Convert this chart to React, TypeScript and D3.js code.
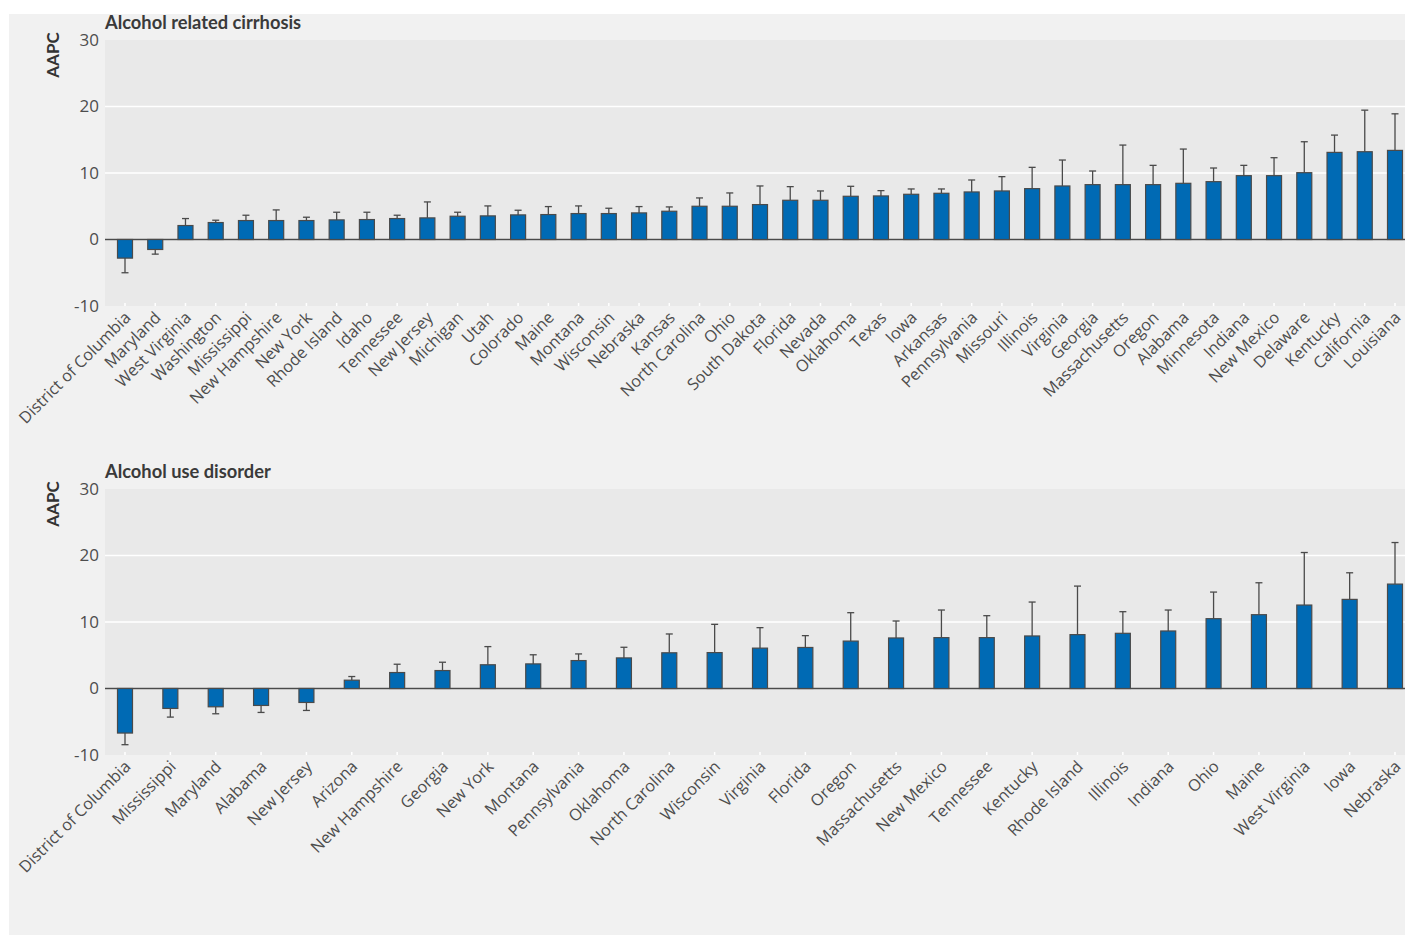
import React from "react";
import * as d3 from "d3";

const cirrhosisStates = [
  "District of Columbia", "Maryland", "West Virginia", "Washington", "Mississippi",
  "New Hampshire", "New York", "Rhode Island", "Idaho", "Tennessee", "New Jersey",
  "Michigan", "Utah", "Colorado", "Maine", "Montana", "Wisconsin", "Nebraska", "Kansas",
  "North Carolina", "Ohio", "South Dakota", "Florida", "Nevada", "Oklahoma", "Texas",
  "Iowa", "Arkansas", "Pennsylvania", "Missouri", "Illinois", "Virginia", "Georgia",
  "Massachusetts", "Oregon", "Alabama", "Minnesota", "Indiana", "New Mexico", "Delaware",
  "Kentucky", "California", "Louisiana",
];
const cirrhosisAAPC = [
  -2.8, -1.5, 2.1, 2.55, 2.85, 2.85, 2.85, 2.95, 3.0, 3.15, 3.25,
  3.5, 3.55, 3.7, 3.75, 3.9, 3.9, 4.0, 4.25,
  5.0, 5.0, 5.25, 5.9, 5.9, 6.5, 6.55,
  6.8, 6.95, 7.15, 7.3, 7.65, 8.05, 8.25,
  8.25, 8.25, 8.45, 8.7, 9.6, 9.6, 10.05,
  13.1, 13.2, 13.4,
];
const cirrhosisCI = [
  -5.0, -2.2, 3.15, 2.9, 3.65, 4.45, 3.35, 4.1, 4.1, 3.65, 5.65,
  4.1, 5.05, 4.4, 4.95, 5.05, 4.7, 4.95, 4.9,
  6.25, 7.0, 8.05, 7.95, 7.3, 8.0, 7.35,
  7.6, 7.6, 8.95, 9.45, 10.85, 11.95, 10.3,
  14.2, 11.15, 13.6, 10.75, 11.15, 12.3, 14.7,
  15.7, 19.45, 18.9,
];

const audStates = [
  "District of Columbia", "Mississippi", "Maryland", "Alabama", "New Jersey", "Arizona",
  "New Hampshire", "Georgia", "New York", "Montana", "Pennsylvania", "Oklahoma",
  "North Carolina", "Wisconsin", "Virginia", "Florida", "Oregon", "Massachusetts",
  "New Mexico", "Tennessee", "Kentucky", "Rhode Island", "Illinois", "Indiana", "Ohio",
  "Maine", "West Virginia", "Iowa", "Nebraska",
];
const audAAPC = [
  -6.7, -3.0, -2.75, -2.55, -2.1, 1.25,
  2.4, 2.7, 3.57, 3.7, 4.2, 4.6,
  5.37, 5.4, 6.07, 6.17, 7.13, 7.6,
  7.65, 7.65, 7.9, 8.1, 8.3, 8.65, 10.5,
  11.1, 12.55, 13.4, 15.7,
];
const audCI = [
  -8.45, -4.3, -3.8, -3.6, -3.3, 1.8,
  3.65, 3.95, 6.3, 5.07, 5.2, 6.2,
  8.2, 9.65, 9.15, 7.95, 11.4, 10.15,
  11.8, 10.95, 13.0, 15.4, 11.55, 11.8, 14.5,
  15.9, 20.45, 17.4, 21.95,
];

const yTicks = [-10, 0, 10, 20, 30];

const W = 1405;
const H = 935;
const PANEL_LEFT = 105;
const FIRST_X = 125;
const LAST_X = 1395;
const BAR_W = 15;
const CAP_W = 7;
const BLUE = "#006ab4";
const DARK = "#4a4a4a";
const TEXT = "#4d4d4d";
const FONT = "'Open Sans', 'Noto Sans', sans-serif";
const TITLE_FONT = "Lato, 'Open Sans', sans-serif";

type PanelProps = {
  title: string;
  cats: string[];
  vals: number[];
  ci: number[];
  top: number;
  bottom: number;
  titleY: number;
};

function Panel({ title, cats, vals, ci, top, bottom, titleY }: PanelProps) {
  const x = d3.scalePoint<string>().domain(cats).range([FIRST_X, LAST_X]);
  const y = d3.scaleLinear().domain([-10, 30]).range([bottom, top]);
  const panelRight = W + 20;
  return (
    <g>
      <rect x={PANEL_LEFT} y={top} width={panelRight - PANEL_LEFT} height={bottom - top} fill="#e9e9e9" />
      {yTicks.filter((t) => t !== -10 && t !== 30).map((t) => (
        <line key={t} x1={PANEL_LEFT} x2={panelRight} y1={y(t)} y2={y(t)} stroke="#ffffff" strokeWidth={1.6} />
      ))}
      {cats.map((c) => (
        <line key={"t" + c} x1={x(c)} x2={x(c)} y1={bottom - 3} y2={bottom} stroke="#ffffff" strokeWidth={1.5} />
      ))}
      <line x1={PANEL_LEFT} x2={panelRight} y1={y(0)} y2={y(0)} stroke={DARK} strokeWidth={1.4} />
      {cats.map((c, i) => {
        const v = vals[i];
        const e = ci[i];
        const cx = x(c)!;
        return (
          <g key={"b" + c}>
            <line x1={cx} x2={cx} y1={y(v)} y2={y(e)} stroke={DARK} strokeWidth={1.3} />
            <line x1={cx - CAP_W / 2} x2={cx + CAP_W / 2} y1={y(e)} y2={y(e)} stroke={DARK} strokeWidth={1.3} />
            <rect
              x={cx - BAR_W / 2}
              y={Math.min(y(v), y(0))}
              width={BAR_W}
              height={Math.abs(y(v) - y(0))}
              fill={BLUE}
              stroke={DARK}
              strokeWidth={1.2}
            />
          </g>
        );
      })}
      {yTicks.map((t) => (
        <text key={"y" + t} x={PANEL_LEFT - 6} y={y(t)} dy="0.35em" textAnchor="end" fontSize={17} fill={TEXT} fontFamily={FONT}>
          {t}
        </text>
      ))}
      <text
        transform={`translate(${PANEL_LEFT - 52},${top + 15}) rotate(-90)`}
        textAnchor="middle"
        dy="0.35em"
        fontSize={17}
        fontWeight="bold"
        fill="#333"
        fontFamily={TITLE_FONT}
      >
        AAPC
      </text>
      <text x={PANEL_LEFT} y={titleY} fontSize={18.3} fontWeight="bold" fill="#3a3a3a" fontFamily={TITLE_FONT}>
        {title}
      </text>
      {cats.map((c) => (
        <text
          key={"l" + c}
          transform={`translate(${x(c)! - 2},${bottom + 4}) rotate(-45)`}
          textAnchor="end"
          dy="0.75em"
          fontSize={16.3}
          fill={TEXT}
          fontFamily={FONT}
        >
          {c}
        </text>
      ))}
    </g>
  );
}

export default function App() {
  return (
    <svg width={W} height={H} style={{ position: "absolute", left: 0, top: 0, background: "#ffffff" }}>
      <rect x={9} y={14} width={W} height={H} fill="#f1f1f1" />
      <Panel title="Alcohol related cirrhosis" cats={cirrhosisStates} vals={cirrhosisAAPC} ci={cirrhosisCI} top={40} bottom={306} titleY={29} />
      <Panel title="Alcohol use disorder" cats={audStates} vals={audAAPC} ci={audCI} top={489} bottom={755} titleY={478} />
    </svg>
  );
}
